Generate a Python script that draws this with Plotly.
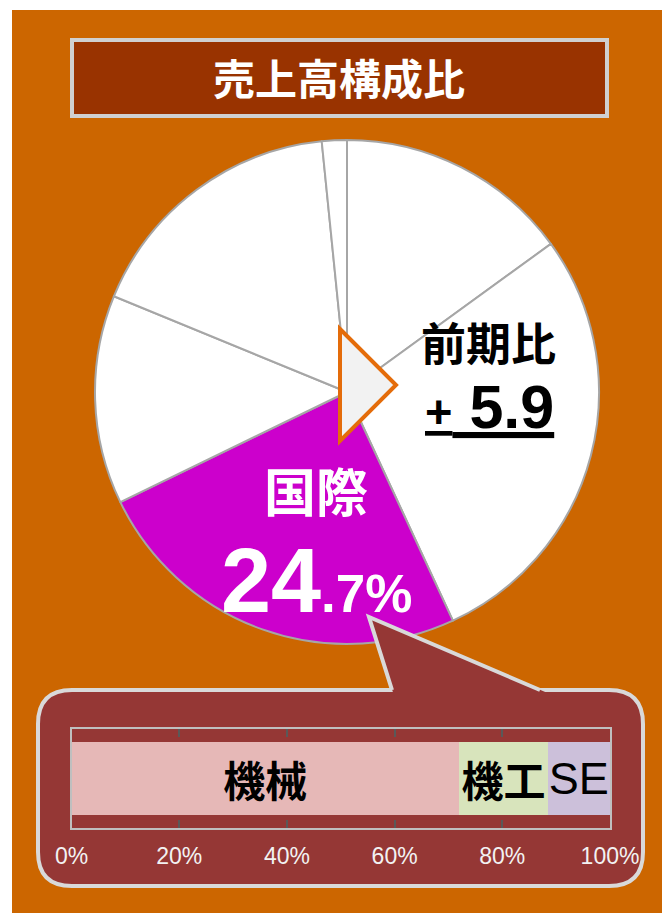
import plotly.graph_objects as go

W, H = 662, 913

# ---------------- data ----------------
pie_labels = ["区分1", "区分2", "国際", "区分4", "区分5", "区分6"]
pie_values = [15.0, 28.1, 24.7, 13.4, 17.2, 1.6]
pie_colors = ["#FFFFFF", "#FFFFFF", "#CC00CC", "#FFFFFF", "#FFFFFF", "#FFFFFF"]

bar_categories = ["機械", "機工", "SE"]
bar_values = [72.0, 16.4, 11.6]
bar_colors = ["#E6B8B7", "#D8E4BC", "#CCC0DA"]

tick_vals = [0, 20, 40, 60, 80, 100]
tick_text = ["0%", "20%", "40%", "60%", "80%", "100%"]

title_text = "売上高構成比"
highlight_label = "国際"
highlight_int = "24"
highlight_dec = ".7%"
yoy_label = "前期比"
yoy_sign = "+"
yoy_value = "5.9"

CJK = "Noto Sans CJK JP"
LAT = "Liberation Sans, Arial"


def px(x):
    return x / W


def py(y):
    return 1 - y / H


fig = go.Figure()

# ---------------- pie ----------------
cx, cy, r = 347, 392, 252
fig.add_trace(go.Pie(
    labels=pie_labels, values=pie_values, sort=False, direction="clockwise",
    rotation=0, marker=dict(colors=pie_colors, line=dict(color="#A6A6A6", width=2)),
    textinfo="none", hoverinfo="skip", showlegend=False, automargin=False,
    domain=dict(x=[px(cx - r), px(cx + r)], y=[py(cy + r), py(cy - r)]),
))

# ---------------- stacked bar ----------------
for i, (cat, val, col) in enumerate(zip(bar_categories, bar_values, bar_colors)):
    is_cjk = cat != "SE"
    fig.add_trace(go.Bar(
        x=[val], y=["share"], orientation="h", marker=dict(color=col, line=dict(width=0)),
        text=[f"<b>{cat}</b>" if is_cjk else cat], textposition="inside",
        insidetextanchor="middle", textangle=0, constraintext="none",
        textfont=dict(family=CJK if is_cjk else LAT, size=42 if is_cjk else 45, color="#000000"),
        hoverinfo="skip", showlegend=False,
    ))

fig.update_layout(
    barmode="stack", bargap=0.27,
    xaxis=dict(domain=[px(71.5), px(610)], range=[0, 100], tickvals=tick_vals, ticktext=tick_text,
               ticks="inside", ticklen=8, tickwidth=2, tickcolor="#595959",
               showline=True, linecolor="#BFBFBF", linewidth=2, mirror="ticks",
               showgrid=False, zeroline=False, fixedrange=True, automargin=False,
               tickfont=dict(family=LAT, size=23, color="#F2F2F2"), ticklabelstandoff=6),
    yaxis=dict(domain=[py(828), py(729)], showticklabels=False, showline=True, linecolor="#BFBFBF",
               linewidth=2, mirror=True, showgrid=False, zeroline=False, fixedrange=True,
               automargin=False),
    plot_bgcolor="#F2F2F2",
)

# ---------------- shapes ----------------
shapes = []
shapes.append(dict(type="rect", xref="paper", yref="paper", x0=px(12), x1=px(662), y0=py(913), y1=py(10),
                   fillcolor="#CC6600", line=dict(width=0), layer="below"))
shapes.append(dict(type="rect", xref="paper", yref="paper", x0=px(72), x1=px(607), y0=py(116), y1=py(40),
                   fillcolor="#993300", line=dict(color="#D0D0D0", width=4), layer="below"))


def rrect(x0, y0, x1, y1, rad):
    pts = [
        f"M {px(x0 + rad)},{py(y0)}",
        f"L {px(x1 - rad)},{py(y0)}",
        f"Q {px(x1)},{py(y0)} {px(x1)},{py(y0 + rad)}",
        f"L {px(x1)},{py(y1 - rad)}",
        f"Q {px(x1)},{py(y1)} {px(x1 - rad)},{py(y1)}",
        f"L {px(x0 + rad)},{py(y1)}",
        f"Q {px(x0)},{py(y1)} {px(x0)},{py(y1 - rad)}",
        f"L {px(x0)},{py(y0 + rad)}",
        f"Q {px(x0)},{py(y0)} {px(x0 + rad)},{py(y0)}",
        "Z",
    ]
    return " ".join(pts)


shapes.append(dict(type="path", xref="paper", yref="paper", path=rrect(38, 690, 643, 886, 34),
                   fillcolor="#953735", line=dict(color="#D9D9D9", width=4), layer="below"))
tip = (369, 617)
shapes.append(dict(type="path", xref="paper", yref="paper",
                   path=f"M {px(394.5)},{py(697)} L {px(tip[0])},{py(tip[1])} L {px(557)},{py(697)} Z",
                   fillcolor="#953735", line=dict(width=0), layer="above"))
shapes.append(dict(type="path", xref="paper", yref="paper",
                   path=f"M {px(392)},{py(690)} L {px(tip[0])},{py(tip[1])} L {px(540)},{py(690)}",
                   fillcolor="rgba(0,0,0,0)", line=dict(color="#D9D9D9", width=4), layer="above"))
shapes.append(dict(type="path", xref="paper", yref="paper",
                   path=f"M {px(340)},{py(329)} L {px(396)},{py(385)} L {px(340)},{py(441)} Z",
                   fillcolor="#F2F2F2", line=dict(color="#E46C0A", width=4), layer="above"))
fig.update_layout(shapes=shapes)

# ---------------- annotations ----------------
ann = []
ann.append(dict(x=px(339), y=py(77), xref="paper", yref="paper", showarrow=False,
                xanchor="center", yanchor="middle",
                text=f"<b>{title_text}</b>", font=dict(family=CJK, size=42, color="#FFFFFF")))
ann.append(dict(x=px(488), y=py(341), xref="paper", yref="paper", showarrow=False,
                xanchor="center", yanchor="middle",
                text=f"<b>{yoy_label}</b>", font=dict(family=CJK, size=45, color="#000000")))
ann.append(dict(x=px(489), y=py(407), xref="paper", yref="paper", showarrow=False,
                xanchor="center", yanchor="middle",
                text=f"<u><b><span style='font-size:47px'>{yoy_sign}</span> {yoy_value}</b></u>",
                font=dict(family=LAT, size=61, color="#000000")))
ann.append(dict(x=px(316), y=py(489), xref="paper", yref="paper", showarrow=False,
                xanchor="center", yanchor="middle",
                text=f"<b>{highlight_label}</b>", font=dict(family=CJK, size=52, color="#FFFFFF")))
ann.append(dict(x=px(316), y=py(581), xref="paper", yref="paper", showarrow=False,
                xanchor="center", yanchor="middle",
                text=f"<b>{highlight_int}<span style='font-size:53px'>{highlight_dec}</span></b>",
                font=dict(family=LAT, size=90, color="#FFFFFF")))
fig.update_layout(annotations=ann)

fig.update_layout(width=W, height=H, autosize=False,
                  margin=dict(l=0, r=0, t=0, b=0, pad=0, autoexpand=False),
                  paper_bgcolor="#FFFFFF", showlegend=False)

fig.write_html("out.html", config={"displayModeBar": False, "staticPlot": True},
               post_script="document.body.style.margin='0';")
